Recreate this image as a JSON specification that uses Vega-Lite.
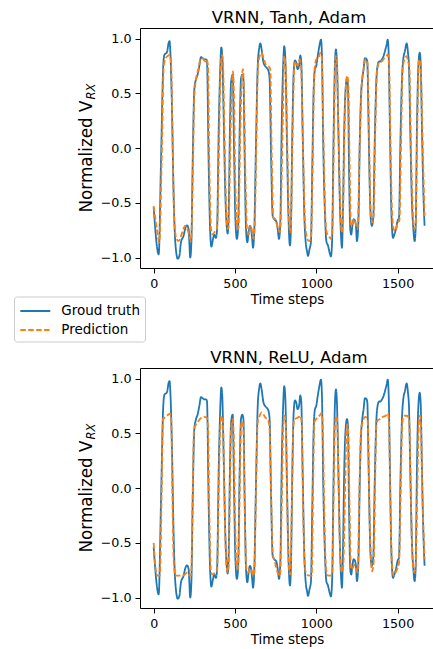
{
"$schema":"https://vega.github.io/schema/vega-lite/v6.json",
"padding":{"left":13,"top":9,"right":0,"bottom":5},
"config":{
 "font":"DejaVu Sans",
 "view":{"stroke":null},
 "axis":{"grid":false,"domainColor":"#000","domainWidth":1,"tickColor":"#000","tickWidth":1,"tickSize":5,"labelColor":"#000","labelFontSize":12.7,"labelFont":"DejaVu Sans","titleFont":"DejaVu Sans","titleColor":"#000","titleFontWeight":"normal","labelFlush":false,"labelOverlap":false},
 "title":{"fontSize":16.5,"fontWeight":"normal","color":"#000","font":"DejaVu Sans","baseline":"alphabetic","offset":2,"dx":2},
 "line":{"strokeWidth":1.8,"interpolate":"monotone"}
},
"datasets":{
"truth":[
{"t":0,"v":-0.54,"s":"Groud truth"},{"t":31,"v":-0.97,"s":"Groud truth"},{"t":45,"v":-0.13,"s":"Groud truth"},{"t":59,"v":0.75,"s":"Groud truth"},{"t":66,"v":0.85,"s":"Groud truth"},{"t":82,"v":0.875,"s":"Groud truth"},{"t":92,"v":0.96,"s":"Groud truth"},{"t":98,"v":0.976,"s":"Groud truth"},{"t":102,"v":0.9,"s":"Groud truth"},{"t":111,"v":0.47,"s":"Groud truth"},{"t":123,"v":-0.44,"s":"Groud truth"},{"t":133,"v":-0.86,"s":"Groud truth"},{"t":148,"v":-1.01,"s":"Groud truth"},{"t":158,"v":-0.985,"s":"Groud truth"},{"t":168,"v":-0.86,"s":"Groud truth"},{"t":184,"v":-0.8,"s":"Groud truth"},{"t":195,"v":-0.73,"s":"Groud truth"},{"t":205,"v":-0.705,"s":"Groud truth"},{"t":215,"v":-0.74,"s":"Groud truth"},{"t":225,"v":-1.0,"s":"Groud truth"},{"t":232,"v":-0.86,"s":"Groud truth"},{"t":240,"v":-0.13,"s":"Groud truth"},{"t":250,"v":0.535,"s":"Groud truth"},{"t":260,"v":0.626,"s":"Groud truth"},{"t":270,"v":0.67,"s":"Groud truth"},{"t":281,"v":0.75,"s":"Groud truth"},{"t":291,"v":0.83,"s":"Groud truth"},{"t":301,"v":0.82,"s":"Groud truth"},{"t":312,"v":0.81,"s":"Groud truth"},{"t":322,"v":0.81,"s":"Groud truth"},{"t":328,"v":0.79,"s":"Groud truth"},{"t":338,"v":-0.13,"s":"Groud truth"},{"t":347,"v":-0.74,"s":"Groud truth"},{"t":355,"v":-0.9,"s":"Groud truth"},{"t":365,"v":-0.83,"s":"Groud truth"},{"t":373,"v":-0.79,"s":"Groud truth"},{"t":383,"v":-0.82,"s":"Groud truth"},{"t":390,"v":-0.74,"s":"Groud truth"},{"t":400,"v":0.17,"s":"Groud truth"},{"t":410,"v":0.75,"s":"Groud truth"},{"t":416,"v":0.92,"s":"Groud truth"},{"t":422,"v":0.84,"s":"Groud truth"},{"t":430,"v":0.32,"s":"Groud truth"},{"t":441,"v":-0.44,"s":"Groud truth"},{"t":449,"v":-0.71,"s":"Groud truth"},{"t":455,"v":-0.78,"s":"Groud truth"},{"t":461,"v":-0.62,"s":"Groud truth"},{"t":469,"v":0.17,"s":"Groud truth"},{"t":476,"v":0.6,"s":"Groud truth"},{"t":486,"v":0.67,"s":"Groud truth"},{"t":494,"v":0.02,"s":"Groud truth"},{"t":502,"v":-0.62,"s":"Groud truth"},{"t":512,"v":-0.83,"s":"Groud truth"},{"t":519,"v":-0.74,"s":"Groud truth"},{"t":529,"v":0.17,"s":"Groud truth"},{"t":537,"v":0.63,"s":"Groud truth"},{"t":545,"v":0.67,"s":"Groud truth"},{"t":552,"v":0.63,"s":"Groud truth"},{"t":560,"v":-0.13,"s":"Groud truth"},{"t":568,"v":-0.74,"s":"Groud truth"},{"t":576,"v":-0.86,"s":"Groud truth"},{"t":584,"v":-0.77,"s":"Groud truth"},{"t":592,"v":-0.71,"s":"Groud truth"},{"t":599,"v":-0.74,"s":"Groud truth"},{"t":605,"v":-0.82,"s":"Groud truth"},{"t":611,"v":-0.91,"s":"Groud truth"},{"t":619,"v":-0.74,"s":"Groud truth"},{"t":629,"v":0.02,"s":"Groud truth"},{"t":640,"v":0.75,"s":"Groud truth"},{"t":648,"v":0.9,"s":"Groud truth"},{"t":656,"v":0.955,"s":"Groud truth"},{"t":664,"v":0.9,"s":"Groud truth"},{"t":674,"v":0.79,"s":"Groud truth"},{"t":685,"v":0.75,"s":"Groud truth"},{"t":697,"v":0.73,"s":"Groud truth"},{"t":707,"v":0.7,"s":"Groud truth"},{"t":713,"v":0.63,"s":"Groud truth"},{"t":722,"v":-0.07,"s":"Groud truth"},{"t":732,"v":-0.62,"s":"Groud truth"},{"t":742,"v":-0.65,"s":"Groud truth"},{"t":754,"v":-0.67,"s":"Groud truth"},{"t":762,"v":-0.73,"s":"Groud truth"},{"t":771,"v":-0.83,"s":"Groud truth"},{"t":779,"v":-0.68,"s":"Groud truth"},{"t":787,"v":0.17,"s":"Groud truth"},{"t":797,"v":0.78,"s":"Groud truth"},{"t":803,"v":0.93,"s":"Groud truth"},{"t":810,"v":0.81,"s":"Groud truth"},{"t":820,"v":0.02,"s":"Groud truth"},{"t":830,"v":-0.68,"s":"Groud truth"},{"t":838,"v":-0.89,"s":"Groud truth"},{"t":844,"v":-0.74,"s":"Groud truth"},{"t":853,"v":0.17,"s":"Groud truth"},{"t":861,"v":0.69,"s":"Groud truth"},{"t":869,"v":0.8,"s":"Groud truth"},{"t":877,"v":0.78,"s":"Groud truth"},{"t":885,"v":0.72,"s":"Groud truth"},{"t":894,"v":0.75,"s":"Groud truth"},{"t":902,"v":0.845,"s":"Groud truth"},{"t":908,"v":0.78,"s":"Groud truth"},{"t":916,"v":0.17,"s":"Groud truth"},{"t":926,"v":-0.59,"s":"Groud truth"},{"t":935,"v":-0.86,"s":"Groud truth"},{"t":943,"v":-0.94,"s":"Groud truth"},{"t":949,"v":-0.985,"s":"Groud truth"},{"t":959,"v":-0.92,"s":"Groud truth"},{"t":967,"v":-0.86,"s":"Groud truth"},{"t":976,"v":-0.13,"s":"Groud truth"},{"t":984,"v":0.535,"s":"Groud truth"},{"t":992,"v":0.72,"s":"Groud truth"},{"t":1000,"v":0.75,"s":"Groud truth"},{"t":1009,"v":0.84,"s":"Groud truth"},{"t":1019,"v":0.93,"s":"Groud truth"},{"t":1029,"v":0.99,"s":"Groud truth"},{"t":1035,"v":0.84,"s":"Groud truth"},{"t":1043,"v":0.02,"s":"Groud truth"},{"t":1054,"v":-0.62,"s":"Groud truth"},{"t":1062,"v":-0.85,"s":"Groud truth"},{"t":1072,"v":-0.89,"s":"Groud truth"},{"t":1082,"v":-0.955,"s":"Groud truth"},{"t":1090,"v":-0.99,"s":"Groud truth"},{"t":1097,"v":-0.86,"s":"Groud truth"},{"t":1107,"v":0.17,"s":"Groud truth"},{"t":1115,"v":0.78,"s":"Groud truth"},{"t":1121,"v":0.9,"s":"Groud truth"},{"t":1127,"v":0.78,"s":"Groud truth"},{"t":1136,"v":0.17,"s":"Groud truth"},{"t":1144,"v":-0.44,"s":"Groud truth"},{"t":1152,"v":-0.8,"s":"Groud truth"},{"t":1158,"v":-0.91,"s":"Groud truth"},{"t":1164,"v":-0.59,"s":"Groud truth"},{"t":1172,"v":0.17,"s":"Groud truth"},{"t":1181,"v":0.55,"s":"Groud truth"},{"t":1189,"v":0.63,"s":"Groud truth"},{"t":1195,"v":0.565,"s":"Groud truth"},{"t":1201,"v":-0.13,"s":"Groud truth"},{"t":1209,"v":-0.74,"s":"Groud truth"},{"t":1215,"v":-0.79,"s":"Groud truth"},{"t":1222,"v":-0.71,"s":"Groud truth"},{"t":1230,"v":-0.65,"s":"Groud truth"},{"t":1238,"v":-0.665,"s":"Groud truth"},{"t":1244,"v":-0.71,"s":"Groud truth"},{"t":1250,"v":-0.85,"s":"Groud truth"},{"t":1259,"v":-0.68,"s":"Groud truth"},{"t":1267,"v":0.02,"s":"Groud truth"},{"t":1275,"v":0.47,"s":"Groud truth"},{"t":1283,"v":0.63,"s":"Groud truth"},{"t":1291,"v":0.72,"s":"Groud truth"},{"t":1299,"v":0.82,"s":"Groud truth"},{"t":1308,"v":0.815,"s":"Groud truth"},{"t":1314,"v":0.78,"s":"Groud truth"},{"t":1322,"v":0.17,"s":"Groud truth"},{"t":1330,"v":-0.44,"s":"Groud truth"},{"t":1336,"v":-0.665,"s":"Groud truth"},{"t":1342,"v":-0.71,"s":"Groud truth"},{"t":1351,"v":-0.62,"s":"Groud truth"},{"t":1359,"v":0.02,"s":"Groud truth"},{"t":1369,"v":0.6,"s":"Groud truth"},{"t":1377,"v":0.75,"s":"Groud truth"},{"t":1386,"v":0.79,"s":"Groud truth"},{"t":1394,"v":0.79,"s":"Groud truth"},{"t":1404,"v":0.81,"s":"Groud truth"},{"t":1414,"v":0.84,"s":"Groud truth"},{"t":1425,"v":0.9,"s":"Groud truth"},{"t":1433,"v":0.945,"s":"Groud truth"},{"t":1439,"v":0.99,"s":"Groud truth"},{"t":1445,"v":0.87,"s":"Groud truth"},{"t":1453,"v":0.17,"s":"Groud truth"},{"t":1462,"v":-0.59,"s":"Groud truth"},{"t":1472,"v":-0.82,"s":"Groud truth"},{"t":1480,"v":-0.79,"s":"Groud truth"},{"t":1490,"v":-0.74,"s":"Groud truth"},{"t":1500,"v":-0.665,"s":"Groud truth"},{"t":1509,"v":-0.635,"s":"Groud truth"},{"t":1517,"v":0.02,"s":"Groud truth"},{"t":1527,"v":0.63,"s":"Groud truth"},{"t":1535,"v":0.81,"s":"Groud truth"},{"t":1545,"v":0.885,"s":"Groud truth"},{"t":1556,"v":0.955,"s":"Groud truth"},{"t":1564,"v":0.87,"s":"Groud truth"},{"t":1570,"v":0.75,"s":"Groud truth"},{"t":1578,"v":0.17,"s":"Groud truth"},{"t":1587,"v":-0.44,"s":"Groud truth"},{"t":1597,"v":-0.74,"s":"Groud truth"},{"t":1605,"v":-0.85,"s":"Groud truth"},{"t":1611,"v":-0.74,"s":"Groud truth"},{"t":1619,"v":0.17,"s":"Groud truth"},{"t":1627,"v":0.72,"s":"Groud truth"},{"t":1636,"v":0.87,"s":"Groud truth"},{"t":1642,"v":0.78,"s":"Groud truth"},{"t":1650,"v":0.17,"s":"Groud truth"},{"t":1658,"v":-0.38,"s":"Groud truth"},{"t":1666,"v":-0.71,"s":"Groud truth"}
],
"tanh":[
{"t":0,"v":-0.53,"s":"Prediction"},{"t":20,"v":-0.74,"s":"Prediction"},{"t":35,"v":-0.86,"s":"Prediction"},{"t":49,"v":-0.13,"s":"Prediction"},{"t":62,"v":0.75,"s":"Prediction"},{"t":74,"v":0.82,"s":"Prediction"},{"t":86,"v":0.84,"s":"Prediction"},{"t":98,"v":0.85,"s":"Prediction"},{"t":107,"v":0.78,"s":"Prediction"},{"t":117,"v":0.02,"s":"Prediction"},{"t":127,"v":-0.68,"s":"Prediction"},{"t":141,"v":-0.83,"s":"Prediction"},{"t":154,"v":-0.85,"s":"Prediction"},{"t":164,"v":-0.82,"s":"Prediction"},{"t":178,"v":-0.76,"s":"Prediction"},{"t":193,"v":-0.71,"s":"Prediction"},{"t":205,"v":-0.73,"s":"Prediction"},{"t":219,"v":-0.8,"s":"Prediction"},{"t":230,"v":-0.85,"s":"Prediction"},{"t":242,"v":-0.13,"s":"Prediction"},{"t":250,"v":0.47,"s":"Prediction"},{"t":262,"v":0.64,"s":"Prediction"},{"t":275,"v":0.72,"s":"Prediction"},{"t":287,"v":0.81,"s":"Prediction"},{"t":301,"v":0.82,"s":"Prediction"},{"t":316,"v":0.79,"s":"Prediction"},{"t":326,"v":0.81,"s":"Prediction"},{"t":334,"v":0.75,"s":"Prediction"},{"t":342,"v":-0.13,"s":"Prediction"},{"t":353,"v":-0.74,"s":"Prediction"},{"t":363,"v":-0.79,"s":"Prediction"},{"t":377,"v":-0.76,"s":"Prediction"},{"t":390,"v":-0.73,"s":"Prediction"},{"t":402,"v":0.02,"s":"Prediction"},{"t":410,"v":0.63,"s":"Prediction"},{"t":420,"v":0.85,"s":"Prediction"},{"t":426,"v":0.79,"s":"Prediction"},{"t":435,"v":0.17,"s":"Prediction"},{"t":445,"v":-0.5,"s":"Prediction"},{"t":455,"v":-0.74,"s":"Prediction"},{"t":461,"v":-0.71,"s":"Prediction"},{"t":471,"v":0.02,"s":"Prediction"},{"t":480,"v":0.535,"s":"Prediction"},{"t":488,"v":0.7,"s":"Prediction"},{"t":494,"v":0.47,"s":"Prediction"},{"t":502,"v":-0.29,"s":"Prediction"},{"t":512,"v":-0.71,"s":"Prediction"},{"t":521,"v":-0.74,"s":"Prediction"},{"t":531,"v":0.02,"s":"Prediction"},{"t":541,"v":0.6,"s":"Prediction"},{"t":549,"v":0.72,"s":"Prediction"},{"t":555,"v":0.535,"s":"Prediction"},{"t":564,"v":-0.22,"s":"Prediction"},{"t":574,"v":-0.74,"s":"Prediction"},{"t":584,"v":-0.79,"s":"Prediction"},{"t":594,"v":-0.71,"s":"Prediction"},{"t":603,"v":-0.74,"s":"Prediction"},{"t":613,"v":-0.83,"s":"Prediction"},{"t":621,"v":-0.74,"s":"Prediction"},{"t":631,"v":0.02,"s":"Prediction"},{"t":642,"v":0.75,"s":"Prediction"},{"t":652,"v":0.84,"s":"Prediction"},{"t":664,"v":0.87,"s":"Prediction"},{"t":676,"v":0.82,"s":"Prediction"},{"t":691,"v":0.76,"s":"Prediction"},{"t":705,"v":0.75,"s":"Prediction"},{"t":717,"v":0.72,"s":"Prediction"},{"t":726,"v":-0.07,"s":"Prediction"},{"t":736,"v":-0.635,"s":"Prediction"},{"t":748,"v":-0.65,"s":"Prediction"},{"t":762,"v":-0.72,"s":"Prediction"},{"t":777,"v":-0.77,"s":"Prediction"},{"t":793,"v":0.17,"s":"Prediction"},{"t":803,"v":0.84,"s":"Prediction"},{"t":812,"v":0.72,"s":"Prediction"},{"t":824,"v":-0.13,"s":"Prediction"},{"t":834,"v":-0.71,"s":"Prediction"},{"t":842,"v":-0.77,"s":"Prediction"},{"t":855,"v":0.17,"s":"Prediction"},{"t":865,"v":0.75,"s":"Prediction"},{"t":875,"v":0.79,"s":"Prediction"},{"t":885,"v":0.75,"s":"Prediction"},{"t":898,"v":0.81,"s":"Prediction"},{"t":906,"v":0.75,"s":"Prediction"},{"t":918,"v":0.02,"s":"Prediction"},{"t":931,"v":-0.68,"s":"Prediction"},{"t":943,"v":-0.82,"s":"Prediction"},{"t":955,"v":-0.85,"s":"Prediction"},{"t":967,"v":-0.83,"s":"Prediction"},{"t":978,"v":-0.13,"s":"Prediction"},{"t":988,"v":0.69,"s":"Prediction"},{"t":1000,"v":0.81,"s":"Prediction"},{"t":1013,"v":0.82,"s":"Prediction"},{"t":1025,"v":0.87,"s":"Prediction"},{"t":1033,"v":0.84,"s":"Prediction"},{"t":1043,"v":0.17,"s":"Prediction"},{"t":1054,"v":-0.56,"s":"Prediction"},{"t":1064,"v":-0.77,"s":"Prediction"},{"t":1076,"v":-0.8,"s":"Prediction"},{"t":1090,"v":-0.83,"s":"Prediction"},{"t":1099,"v":-0.74,"s":"Prediction"},{"t":1109,"v":0.17,"s":"Prediction"},{"t":1119,"v":0.84,"s":"Prediction"},{"t":1127,"v":0.81,"s":"Prediction"},{"t":1136,"v":0.17,"s":"Prediction"},{"t":1146,"v":-0.44,"s":"Prediction"},{"t":1156,"v":-0.77,"s":"Prediction"},{"t":1164,"v":-0.62,"s":"Prediction"},{"t":1174,"v":0.17,"s":"Prediction"},{"t":1185,"v":0.63,"s":"Prediction"},{"t":1191,"v":0.66,"s":"Prediction"},{"t":1197,"v":0.58,"s":"Prediction"},{"t":1205,"v":-0.13,"s":"Prediction"},{"t":1213,"v":-0.71,"s":"Prediction"},{"t":1224,"v":-0.68,"s":"Prediction"},{"t":1234,"v":-0.65,"s":"Prediction"},{"t":1246,"v":-0.71,"s":"Prediction"},{"t":1254,"v":-0.74,"s":"Prediction"},{"t":1267,"v":0.02,"s":"Prediction"},{"t":1279,"v":0.565,"s":"Prediction"},{"t":1291,"v":0.72,"s":"Prediction"},{"t":1302,"v":0.81,"s":"Prediction"},{"t":1314,"v":0.79,"s":"Prediction"},{"t":1324,"v":0.17,"s":"Prediction"},{"t":1332,"v":-0.5,"s":"Prediction"},{"t":1343,"v":-0.68,"s":"Prediction"},{"t":1353,"v":-0.62,"s":"Prediction"},{"t":1363,"v":0.17,"s":"Prediction"},{"t":1373,"v":0.69,"s":"Prediction"},{"t":1386,"v":0.78,"s":"Prediction"},{"t":1402,"v":0.79,"s":"Prediction"},{"t":1418,"v":0.82,"s":"Prediction"},{"t":1431,"v":0.84,"s":"Prediction"},{"t":1439,"v":0.855,"s":"Prediction"},{"t":1447,"v":0.78,"s":"Prediction"},{"t":1455,"v":0.17,"s":"Prediction"},{"t":1466,"v":-0.59,"s":"Prediction"},{"t":1476,"v":-0.74,"s":"Prediction"},{"t":1488,"v":-0.76,"s":"Prediction"},{"t":1500,"v":-0.68,"s":"Prediction"},{"t":1511,"v":-0.665,"s":"Prediction"},{"t":1521,"v":0.02,"s":"Prediction"},{"t":1531,"v":0.72,"s":"Prediction"},{"t":1543,"v":0.81,"s":"Prediction"},{"t":1556,"v":0.84,"s":"Prediction"},{"t":1566,"v":0.78,"s":"Prediction"},{"t":1572,"v":0.75,"s":"Prediction"},{"t":1582,"v":0.02,"s":"Prediction"},{"t":1593,"v":-0.56,"s":"Prediction"},{"t":1603,"v":-0.74,"s":"Prediction"},{"t":1611,"v":-0.71,"s":"Prediction"},{"t":1621,"v":0.17,"s":"Prediction"},{"t":1632,"v":0.81,"s":"Prediction"},{"t":1642,"v":0.75,"s":"Prediction"},{"t":1652,"v":0.17,"s":"Prediction"},{"t":1660,"v":-0.29,"s":"Prediction"},{"t":1666,"v":-0.62,"s":"Prediction"}
],
"relu":[
{"t":0,"v":-0.5,"s":"Prediction"},{"t":10,"v":-0.71,"s":"Prediction"},{"t":24,"v":-0.8,"s":"Prediction"},{"t":38,"v":-0.8,"s":"Prediction"},{"t":49,"v":-0.04,"s":"Prediction"},{"t":57,"v":0.63,"s":"Prediction"},{"t":65,"v":0.64,"s":"Prediction"},{"t":82,"v":0.66,"s":"Prediction"},{"t":98,"v":0.68,"s":"Prediction"},{"t":107,"v":0.66,"s":"Prediction"},{"t":115,"v":-0.04,"s":"Prediction"},{"t":123,"v":-0.65,"s":"Prediction"},{"t":133,"v":-0.8,"s":"Prediction"},{"t":148,"v":-0.8,"s":"Prediction"},{"t":168,"v":-0.8,"s":"Prediction"},{"t":189,"v":-0.79,"s":"Prediction"},{"t":209,"v":-0.77,"s":"Prediction"},{"t":221,"v":-0.8,"s":"Prediction"},{"t":230,"v":-0.8,"s":"Prediction"},{"t":240,"v":-0.04,"s":"Prediction"},{"t":248,"v":0.53,"s":"Prediction"},{"t":260,"v":0.58,"s":"Prediction"},{"t":275,"v":0.61,"s":"Prediction"},{"t":291,"v":0.64,"s":"Prediction"},{"t":312,"v":0.65,"s":"Prediction"},{"t":328,"v":0.64,"s":"Prediction"},{"t":334,"v":0.565,"s":"Prediction"},{"t":342,"v":-0.2,"s":"Prediction"},{"t":353,"v":-0.77,"s":"Prediction"},{"t":363,"v":-0.79,"s":"Prediction"},{"t":377,"v":-0.77,"s":"Prediction"},{"t":390,"v":-0.76,"s":"Prediction"},{"t":400,"v":-0.04,"s":"Prediction"},{"t":410,"v":0.565,"s":"Prediction"},{"t":418,"v":0.66,"s":"Prediction"},{"t":426,"v":0.6,"s":"Prediction"},{"t":435,"v":-0.04,"s":"Prediction"},{"t":445,"v":-0.65,"s":"Prediction"},{"t":455,"v":-0.77,"s":"Prediction"},{"t":461,"v":-0.71,"s":"Prediction"},{"t":469,"v":-0.04,"s":"Prediction"},{"t":477,"v":0.565,"s":"Prediction"},{"t":486,"v":0.63,"s":"Prediction"},{"t":492,"v":0.5,"s":"Prediction"},{"t":500,"v":-0.2,"s":"Prediction"},{"t":510,"v":-0.71,"s":"Prediction"},{"t":519,"v":-0.74,"s":"Prediction"},{"t":529,"v":-0.04,"s":"Prediction"},{"t":537,"v":0.565,"s":"Prediction"},{"t":545,"v":0.61,"s":"Prediction"},{"t":552,"v":0.53,"s":"Prediction"},{"t":560,"v":-0.2,"s":"Prediction"},{"t":570,"v":-0.74,"s":"Prediction"},{"t":582,"v":-0.77,"s":"Prediction"},{"t":592,"v":-0.73,"s":"Prediction"},{"t":601,"v":-0.74,"s":"Prediction"},{"t":611,"v":-0.8,"s":"Prediction"},{"t":619,"v":-0.77,"s":"Prediction"},{"t":629,"v":-0.04,"s":"Prediction"},{"t":640,"v":0.6,"s":"Prediction"},{"t":652,"v":0.66,"s":"Prediction"},{"t":664,"v":0.69,"s":"Prediction"},{"t":676,"v":0.67,"s":"Prediction"},{"t":689,"v":0.64,"s":"Prediction"},{"t":701,"v":0.625,"s":"Prediction"},{"t":711,"v":0.58,"s":"Prediction"},{"t":722,"v":-0.04,"s":"Prediction"},{"t":732,"v":-0.59,"s":"Prediction"},{"t":746,"v":-0.68,"s":"Prediction"},{"t":762,"v":-0.77,"s":"Prediction"},{"t":777,"v":-0.8,"s":"Prediction"},{"t":789,"v":-0.04,"s":"Prediction"},{"t":797,"v":0.565,"s":"Prediction"},{"t":805,"v":0.66,"s":"Prediction"},{"t":812,"v":0.6,"s":"Prediction"},{"t":822,"v":-0.2,"s":"Prediction"},{"t":832,"v":-0.74,"s":"Prediction"},{"t":840,"v":-0.79,"s":"Prediction"},{"t":851,"v":-0.04,"s":"Prediction"},{"t":859,"v":0.565,"s":"Prediction"},{"t":869,"v":0.63,"s":"Prediction"},{"t":881,"v":0.64,"s":"Prediction"},{"t":894,"v":0.65,"s":"Prediction"},{"t":902,"v":0.66,"s":"Prediction"},{"t":910,"v":0.6,"s":"Prediction"},{"t":918,"v":-0.1,"s":"Prediction"},{"t":931,"v":-0.74,"s":"Prediction"},{"t":943,"v":-0.79,"s":"Prediction"},{"t":957,"v":-0.8,"s":"Prediction"},{"t":972,"v":-0.8,"s":"Prediction"},{"t":980,"v":-0.04,"s":"Prediction"},{"t":988,"v":0.6,"s":"Prediction"},{"t":1000,"v":0.63,"s":"Prediction"},{"t":1013,"v":0.65,"s":"Prediction"},{"t":1025,"v":0.67,"s":"Prediction"},{"t":1033,"v":0.685,"s":"Prediction"},{"t":1039,"v":0.6,"s":"Prediction"},{"t":1049,"v":-0.2,"s":"Prediction"},{"t":1060,"v":-0.74,"s":"Prediction"},{"t":1074,"v":-0.8,"s":"Prediction"},{"t":1090,"v":-0.8,"s":"Prediction"},{"t":1099,"v":-0.77,"s":"Prediction"},{"t":1107,"v":-0.04,"s":"Prediction"},{"t":1115,"v":0.565,"s":"Prediction"},{"t":1123,"v":0.66,"s":"Prediction"},{"t":1129,"v":0.6,"s":"Prediction"},{"t":1138,"v":-0.04,"s":"Prediction"},{"t":1148,"v":-0.65,"s":"Prediction"},{"t":1158,"v":-0.77,"s":"Prediction"},{"t":1166,"v":-0.71,"s":"Prediction"},{"t":1177,"v":-0.04,"s":"Prediction"},{"t":1185,"v":0.5,"s":"Prediction"},{"t":1191,"v":0.58,"s":"Prediction"},{"t":1197,"v":0.5,"s":"Prediction"},{"t":1205,"v":-0.2,"s":"Prediction"},{"t":1213,"v":-0.74,"s":"Prediction"},{"t":1224,"v":-0.73,"s":"Prediction"},{"t":1234,"v":-0.7,"s":"Prediction"},{"t":1244,"v":-0.73,"s":"Prediction"},{"t":1254,"v":-0.77,"s":"Prediction"},{"t":1265,"v":-0.04,"s":"Prediction"},{"t":1275,"v":0.53,"s":"Prediction"},{"t":1287,"v":0.61,"s":"Prediction"},{"t":1299,"v":0.65,"s":"Prediction"},{"t":1312,"v":0.64,"s":"Prediction"},{"t":1318,"v":0.565,"s":"Prediction"},{"t":1326,"v":-0.1,"s":"Prediction"},{"t":1336,"v":-0.65,"s":"Prediction"},{"t":1343,"v":-0.76,"s":"Prediction"},{"t":1353,"v":-0.68,"s":"Prediction"},{"t":1361,"v":-0.04,"s":"Prediction"},{"t":1369,"v":0.565,"s":"Prediction"},{"t":1377,"v":0.62,"s":"Prediction"},{"t":1394,"v":0.63,"s":"Prediction"},{"t":1410,"v":0.65,"s":"Prediction"},{"t":1427,"v":0.66,"s":"Prediction"},{"t":1439,"v":0.685,"s":"Prediction"},{"t":1447,"v":0.61,"s":"Prediction"},{"t":1455,"v":-0.1,"s":"Prediction"},{"t":1466,"v":-0.71,"s":"Prediction"},{"t":1476,"v":-0.8,"s":"Prediction"},{"t":1488,"v":-0.77,"s":"Prediction"},{"t":1500,"v":-0.73,"s":"Prediction"},{"t":1509,"v":-0.68,"s":"Prediction"},{"t":1519,"v":-0.04,"s":"Prediction"},{"t":1529,"v":0.6,"s":"Prediction"},{"t":1541,"v":0.66,"s":"Prediction"},{"t":1554,"v":0.66,"s":"Prediction"},{"t":1566,"v":0.65,"s":"Prediction"},{"t":1572,"v":0.6,"s":"Prediction"},{"t":1582,"v":-0.1,"s":"Prediction"},{"t":1593,"v":-0.68,"s":"Prediction"},{"t":1603,"v":-0.77,"s":"Prediction"},{"t":1611,"v":-0.71,"s":"Prediction"},{"t":1621,"v":-0.04,"s":"Prediction"},{"t":1630,"v":0.565,"s":"Prediction"},{"t":1638,"v":0.66,"s":"Prediction"},{"t":1644,"v":0.565,"s":"Prediction"},{"t":1652,"v":-0.04,"s":"Prediction"},{"t":1660,"v":-0.41,"s":"Prediction"},{"t":1666,"v":-0.65,"s":"Prediction"}
]
},
"spacing":43,
"vconcat":[
{
 "width":294,"height":240,
 "title":"VRNN, Tanh, Adam",
 "resolve":{"axis":{"x":"independent","y":"independent"}},
 "layer":[
  {"data":{"name":"truth"},"mark":"line","encoding":{
   "x":{"field":"t","type":"quantitative","scale":{"domain":[-84,1724],"nice":false,"zero":false},"axis":{"orient":"bottom","values":[0,500,1000,1500],"format":"d","title":"Time steps","titleFontSize":13.5,"titlePadding":2,"labelPadding":4.5}},
   "y":{"field":"v","type":"quantitative","scale":{"domain":[-1.095,1.096],"nice":false,"zero":false},"axis":{"orient":"left","values":[-1,-0.5,0,0.5,1],"format":".1f","title":"Normalized V","titleFontSize":16.8,"titleAngle":270,"titleAlign":"right","titleBaseline":"alphabetic","titleX":-48.3,"titleY":72,"labelPadding":4}},
   "color":{"field":"s","type":"nominal","scale":{"domain":["Groud truth","Prediction"],"range":["#1f77b4","#ff7f0e"]},"legend":{"orient":"none","legendX":-126,"legendY":268.5,"title":null,"symbolType":"M-0.96,0L2.56,0","symbolSize":289,"symbolStrokeWidth":1.8,"labelFontSize":13.5,"labelOffset":23.3,"padding":5,"rowPadding":3,"strokeColor":"#cccccc","cornerRadius":3,"fillColor":"#ffffff","labelFont":"DejaVu Sans","labelColor":"#000"}},
   "strokeDash":{"field":"s","type":"nominal","scale":{"domain":["Groud truth","Prediction"],"range":[[1,0],[5.5,2.4]]},"legend":{"orient":"none","legendX":-126,"legendY":268.5,"title":null,"symbolType":"M-0.96,0L2.56,0","symbolSize":289,"symbolStrokeWidth":1.8,"labelFontSize":13.5,"labelOffset":23.3,"padding":5,"rowPadding":3,"strokeColor":"#cccccc","cornerRadius":3,"fillColor":"#ffffff","labelFont":"DejaVu Sans","labelColor":"#000"}}
  }},
  {"data":{"name":"tanh"},"mark":"line","encoding":{
   "x":{"field":"t","type":"quantitative","scale":{"domain":[-84,1724],"nice":false,"zero":false},"axis":{"orient":"top","labels":false,"ticks":false,"title":null}},
   "y":{"field":"v","type":"quantitative","scale":{"domain":[-1.095,1.096],"nice":false,"zero":false},"axis":{"orient":"left","labels":false,"ticks":false,"domain":false,"title":"RX","titleFontSize":11.5,"titleFontStyle":"italic","titleAngle":270,"titleAlign":"left","titleBaseline":"alphabetic","titleX":-45.7,"titleY":71}},
   "color":{"field":"s","type":"nominal","scale":{"domain":["Groud truth","Prediction"],"range":["#1f77b4","#ff7f0e"]},"legend":{"orient":"none","legendX":-126,"legendY":268.5,"title":null,"symbolType":"M-0.96,0L2.56,0","symbolSize":289,"symbolStrokeWidth":1.8,"labelFontSize":13.5,"labelOffset":23.3,"padding":5,"rowPadding":3,"strokeColor":"#cccccc","cornerRadius":3,"fillColor":"#ffffff","labelFont":"DejaVu Sans","labelColor":"#000"}},
   "strokeDash":{"field":"s","type":"nominal","scale":{"domain":["Groud truth","Prediction"],"range":[[1,0],[5.5,2.4]]},"legend":{"orient":"none","legendX":-126,"legendY":268.5,"title":null,"symbolType":"M-0.96,0L2.56,0","symbolSize":289,"symbolStrokeWidth":1.8,"labelFontSize":13.5,"labelOffset":23.3,"padding":5,"rowPadding":3,"strokeColor":"#cccccc","cornerRadius":3,"fillColor":"#ffffff","labelFont":"DejaVu Sans","labelColor":"#000"}}
  }}
 ]
},
{
 "width":294,"height":240,
 "title":"VRNN, ReLU, Adam",
 "resolve":{"axis":{"x":"independent","y":"independent"}},
 "layer":[
  {"data":{"name":"truth"},"mark":"line","encoding":{
   "x":{"field":"t","type":"quantitative","scale":{"domain":[-84,1724],"nice":false,"zero":false},"axis":{"orient":"bottom","values":[0,500,1000,1500],"format":"d","title":"Time steps","titleFontSize":13.5,"titlePadding":2,"labelPadding":4.5}},
   "y":{"field":"v","type":"quantitative","scale":{"domain":[-1.095,1.096],"nice":false,"zero":false},"axis":{"orient":"left","values":[-1,-0.5,0,0.5,1],"format":".1f","title":"Normalized V","titleFontSize":16.8,"titleAngle":270,"titleAlign":"right","titleBaseline":"alphabetic","titleX":-48.3,"titleY":72,"labelPadding":4}},
   "color":{"field":"s","type":"nominal","scale":{"domain":["Groud truth","Prediction"],"range":["#1f77b4","#ff7f0e"]},"legend":{"orient":"none","legendX":-126,"legendY":268.5,"title":null,"symbolType":"M-0.96,0L2.56,0","symbolSize":289,"symbolStrokeWidth":1.8,"labelFontSize":13.5,"labelOffset":23.3,"padding":5,"rowPadding":3,"strokeColor":"#cccccc","cornerRadius":3,"fillColor":"#ffffff","labelFont":"DejaVu Sans","labelColor":"#000"}},
   "strokeDash":{"field":"s","type":"nominal","scale":{"domain":["Groud truth","Prediction"],"range":[[1,0],[5.5,2.4]]},"legend":{"orient":"none","legendX":-126,"legendY":268.5,"title":null,"symbolType":"M-0.96,0L2.56,0","symbolSize":289,"symbolStrokeWidth":1.8,"labelFontSize":13.5,"labelOffset":23.3,"padding":5,"rowPadding":3,"strokeColor":"#cccccc","cornerRadius":3,"fillColor":"#ffffff","labelFont":"DejaVu Sans","labelColor":"#000"}}
  }},
  {"data":{"name":"relu"},"mark":"line","encoding":{
   "x":{"field":"t","type":"quantitative","scale":{"domain":[-84,1724],"nice":false,"zero":false},"axis":{"orient":"top","labels":false,"ticks":false,"title":null}},
   "y":{"field":"v","type":"quantitative","scale":{"domain":[-1.095,1.096],"nice":false,"zero":false},"axis":{"orient":"left","labels":false,"ticks":false,"domain":false,"title":"RX","titleFontSize":11.5,"titleFontStyle":"italic","titleAngle":270,"titleAlign":"left","titleBaseline":"alphabetic","titleX":-45.7,"titleY":71}},
   "color":{"field":"s","type":"nominal","scale":{"domain":["Groud truth","Prediction"],"range":["#1f77b4","#ff7f0e"]},"legend":{"orient":"none","legendX":-126,"legendY":268.5,"title":null,"symbolType":"M-0.96,0L2.56,0","symbolSize":289,"symbolStrokeWidth":1.8,"labelFontSize":13.5,"labelOffset":23.3,"padding":5,"rowPadding":3,"strokeColor":"#cccccc","cornerRadius":3,"fillColor":"#ffffff","labelFont":"DejaVu Sans","labelColor":"#000"}},
   "strokeDash":{"field":"s","type":"nominal","scale":{"domain":["Groud truth","Prediction"],"range":[[1,0],[5.5,2.4]]},"legend":{"orient":"none","legendX":-126,"legendY":268.5,"title":null,"symbolType":"M-0.96,0L2.56,0","symbolSize":289,"symbolStrokeWidth":1.8,"labelFontSize":13.5,"labelOffset":23.3,"padding":5,"rowPadding":3,"strokeColor":"#cccccc","cornerRadius":3,"fillColor":"#ffffff","labelFont":"DejaVu Sans","labelColor":"#000"}}
  }}
 ]
}
]
}
